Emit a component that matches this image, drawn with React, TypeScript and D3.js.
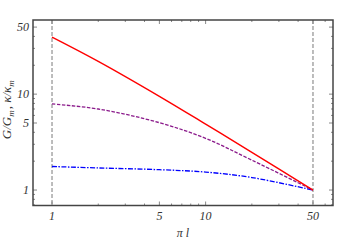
import React from "react";
import * as d3 from "d3";

const xs = [1, 2, 5, 10, 20, 50];
const redG = [39.4, 22.0, 9.5, 4.87, 2.47, 1];
const purpleK = [7.9, 7.0, 5.04, 3.46, 2.05, 1];
const blueC = [1.76, 1.7, 1.63, 1.54, 1.35, 1];
const xMajor = [1, 5, 10, 50];
const xMinor = [2, 3, 4, 6, 7, 8, 9, 20, 30, 40, 60];
const yMajor = [1, 5, 10, 50];
const yMinor = [0.7, 0.8, 0.9, 2, 3, 4, 6, 7, 8, 9, 20, 30, 40];
const vLines = [1, 50];

const W = 353, H = 241;
const L = 33, R = 333, T = 20, B = 205.5;

export default function App() {
  const x = d3.scaleLog().domain([0.752, 67.5]).range([L, R]);
  const y = d3.scaleLog().domain([0.69, 59.3]).range([B, T]);
  const line = d3
    .line<number>()
    .x((_, i) => x(xs[i]))
    .y((d) => y(d))
    .curve(d3.curveCatmullRom.alpha(0.5));
  const font = "'Liberation Serif', 'DejaVu Serif', serif";
  const tickCol = "#888";
  return (
    <svg width={W} height={H} style={{ position: "absolute", left: 0, top: 0 }}>
      <rect x={0} y={0} width={W} height={H} fill="#fff" />
      {vLines.map((v) => (
        <line key={v} x1={x(v)} x2={x(v)} y1={T} y2={B} stroke="#999" strokeWidth={1.3} strokeDasharray="4,2" />
      ))}
      {xMajor.map((v) => (
        <g key={"xM" + v}>
          <line x1={x(v)} x2={x(v)} y1={B} y2={B - 4} stroke={tickCol} />
          <line x1={x(v)} x2={x(v)} y1={T} y2={T + 4} stroke={tickCol} />
        </g>
      ))}
      {xMinor.map((v) => (
        <g key={"xm" + v}>
          <line x1={x(v)} x2={x(v)} y1={B} y2={B - 2} stroke={tickCol} />
          <line x1={x(v)} x2={x(v)} y1={T} y2={T + 2} stroke={tickCol} />
        </g>
      ))}
      {yMajor.map((v) => (
        <g key={"yM" + v}>
          <line x1={L} x2={L + 4} y1={y(v)} y2={y(v)} stroke={tickCol} />
          <line x1={R} x2={R - 4} y1={y(v)} y2={y(v)} stroke={tickCol} />
        </g>
      ))}
      {yMinor.map((v) => (
        <g key={"ym" + v}>
          <line x1={L} x2={L + 2} y1={y(v)} y2={y(v)} stroke={tickCol} />
          <line x1={R} x2={R - 2} y1={y(v)} y2={y(v)} stroke={tickCol} />
        </g>
      ))}
      <path d={line(blueC) || ""} fill="none" stroke="#0000ff" strokeWidth={1.3} strokeDasharray="5,1.5,1.5,1.5" />
      <path d={line(purpleK) || ""} fill="none" stroke="#8b1a8b" strokeWidth={1.3} strokeDasharray="3.5,1.5" />
      <path d={line(redG) || ""} fill="none" stroke="#ff0000" strokeWidth={1.4} />
      <rect x={L} y={T} width={R - L} height={B - T} fill="none" stroke="#444" strokeWidth={1.5} />
      {xMajor.map((v) => (
        <text key={"xl" + v} x={x(v)} y={220} textAnchor="middle" fontFamily={font} fontStyle="italic" fontSize={12} fill="#333">
          {v}
        </text>
      ))}
      {yMajor.map((v) => (
        <text key={"yl" + v} x={29} y={y(v) + 4} textAnchor="end" fontFamily={font} fontStyle="italic" fontSize={12} fill="#333">
          {v}
        </text>
      ))}
      <text x={183} y={237} textAnchor="middle" fontFamily={font} fontStyle="italic" fontSize={12} fill="#333">
        π l
      </text>
      <text
        transform={`translate(11,${(T + B) / 2 - 3}) rotate(-90)`}
        textAnchor="middle"
        fontFamily={font}
        fontStyle="italic"
        fontSize={13}
        fill="#333"
      >
        G/G<tspan fontSize={9} dy={3}>m</tspan>
        <tspan dy={-3} dx={1}>, κ/κ</tspan>
        <tspan fontSize={9} dy={3}>m</tspan>
      </text>
    </svg>
  );
}
